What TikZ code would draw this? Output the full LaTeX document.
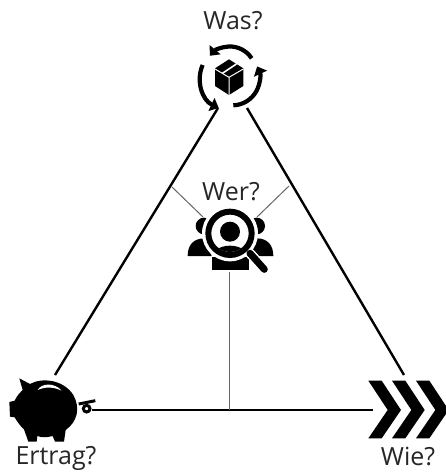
\documentclass[tikz,border=0pt]{standalone}
\usepackage{fontspec}
\setmainfont{Open Sans}
\usetikzlibrary{arrows.meta,calc}

\begin{document}
\begin{tikzpicture}[
        x=1pt, y=-1pt,
        label/.style={font=\fontsize{25}{28}\selectfont, inner sep=0pt, text=black!85},
        mainline/.style={line width=2.4pt, black},
        thinline/.style={line width=1pt, black!60},
        cycle/.style={line width=4.2pt, black, -{Triangle[length=8pt,width=14pt]}},
        icon/.style={fill=black, draw=none},
        gap/.style={fill=white, draw=none}
    ]
        \useasboundingbox (0,0) rectangle (446,473);

        % Labels
        \node[label] (was) at (233,21) {Was?};
        \node[label] (wer) at (231,192) {Wer?};
        \node[label] (ertrag) at (56,458) {Ertrag?};
        \node[label] (wie) at (408,456) {Wie?};

        % Ends of the lines
        \coordinate (wasL) at (218,108);
        \coordinate (wasR) at (247,108);
        \coordinate (ertragT) at (55,375);
        \coordinate (ertragR) at (92,410);
        \coordinate (wieT) at (404,375);
        \coordinate (wieL) at (373,410);
        \coordinate (foot) at (229,410);
        \coordinate (werB) at (229,272);
        \coordinate (werL) at (203,217);
        \coordinate (werR) at (257,217);
        \coordinate (sideL) at (172,187);
        \coordinate (sideR) at (289,186);

        % Triangle
        \draw[mainline] (wasL) -- (ertragT);
        \draw[mainline] (wasR) -- (wieT);
        \draw[mainline] (ertragR) -- (wieL);

        % Thin lines to the middle
        \draw[thinline] (werB) -- (foot);
        \draw[thinline] (werL) -- (sideL);
        \draw[thinline] (werR) -- (sideR);

        % Box with arrows
        \begin{scope}[shift={(160,0)}, scale=1/3]
            \draw[cycle] (275,175) arc[start angle=-33, end angle=-140, radius=78];
            \draw[cycle] (220,316) arc[start angle=88, end angle=-25, radius=82];
            \draw[cycle] (128,195) arc[start angle=-156, end angle=-245, radius=98];
            \fill[icon] (207,178) -- (250,205) -- (250,258) -- (207,285) -- (165,258) -- (165,205) -- cycle;
            \draw[white, line width=1pt] (165,207) -- (207,232) -- (250,207) (207,232) -- (207,285);
            \draw[white, line width=1.6pt] (187,220) -- (229,192);
        \end{scope}

        % People with magnifier
        \begin{scope}[shift={(150,170)}, scale=1/3]
            \fill[icon] (162,168) circle[radius=25];
            \fill[icon] (320,168) circle[radius=25];
            \fill[icon] (113,258) .. controls (113,225) and (130,205) .. (165,205) -- (185,258) -- cycle;
            \fill[icon] (370,258) .. controls (370,225) and (352,205) .. (320,205) -- (300,258) -- cycle;
            \fill[icon] (187,300) -- (187,262) -- (297,262) -- (297,300) -- cycle;
            \fill[gap] (240,190) circle[radius=84];
            \draw[white, line width=10pt, line cap=round] (300,250) -- (343,298);
            \draw[black, line width=7pt, line cap=round] (300,250) -- (343,298);
            \fill[icon, even odd rule] (240,190) circle[radius=74] (240,190) circle[radius=56];
            \fill[icon] (240,185) circle[radius=30];
            \begin{scope}
                \clip (240,190) circle[radius=56];
                \fill[icon] (240,265) ellipse[x radius=56, y radius=38];
            \end{scope}
        \end{scope}

        % Piggy bank
        \begin{scope}[shift={(0,360)}, scale=1/3]
            \fill[icon] (58,55) -- (90,72)
                .. controls (125,52) and (190,58) .. (220,105)
                .. controls (242,145) and (232,185) .. (197,210)
                -- (192,245) -- (165,245) -- (158,228)
                .. controls (140,233) and (125,233) .. (112,228)
                -- (110,245) -- (85,245) -- (72,208)
                .. controls (60,198) and (50,182) .. (44,172)
                -- (30,170) -- (28,126) -- (44,122)
                .. controls (50,108) and (60,98) .. (68,90) -- cycle;
            \fill[gap] (113,90) .. controls (125,68) and (165,68) .. (185,92)
                .. controls (160,80) and (135,80) .. (113,90) -- cycle;
            \draw[black, line width=3pt] (260,146) circle[radius=10];
            \draw[black, line width=3pt] (236,132) -- (286,122);
        \end{scope}

        % Chevrons
        \begin{scope}[shift={(340,360)}, scale=1/3]
            \foreach \off in {0,71,143} {
                \begin{scope}[shift={(\off,0)}]
                    \fill[icon] (85,62) -- (125,62) -- (183,150) -- (125,235) -- (85,235) -- (143,150) -- cycle;
                \end{scope}
            }
        \end{scope}
    \end{tikzpicture}
\end{document}
